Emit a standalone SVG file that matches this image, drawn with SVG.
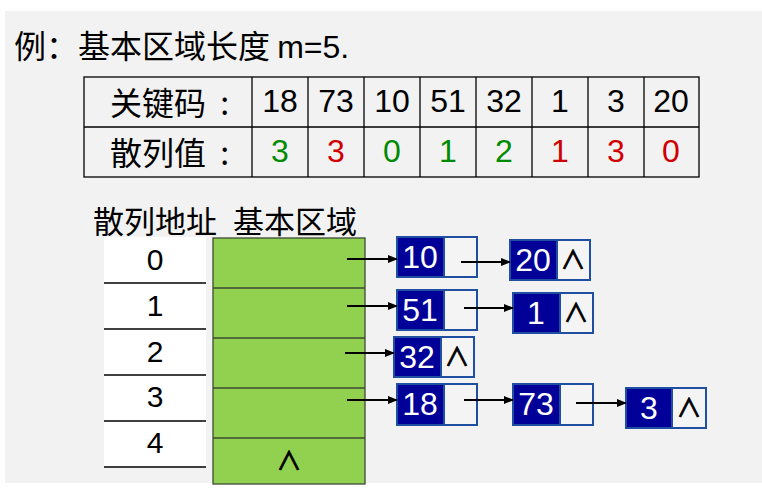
<svg xmlns="http://www.w3.org/2000/svg" width="762" height="498" viewBox="0 0 762 498">
<defs>
<style>
.t{font-family:"Liberation Sans","Noto Sans CJK SC",sans-serif;fill:#000}
.cj{font-family:"Noto Sans CJK SC","Liberation Sans",sans-serif;fill:#000}
.num{font-family:"Liberation Sans",sans-serif;font-size:32px;text-anchor:middle}
.g{fill:#008a00}
.r{fill:#d00000}
.grid{stroke:#000;stroke-width:1.3;fill:none}
.idx{font-family:"Liberation Sans",sans-serif;font-size:30px;text-anchor:middle;fill:#000}
.d{fill:#000099;stroke:#1f4fa0;stroke-width:2}
.p{fill:#f4f4f4;stroke:#1f4fa0;stroke-width:2}
.nt{font-family:"Liberation Sans",sans-serif;font-size:32px;fill:#fff;text-anchor:middle}
.nil{font-family:"Noto Sans CJK SC","DejaVu Sans",sans-serif;font-size:25px;fill:#000;stroke:#000;stroke-width:0.9;text-anchor:middle}
.ln{stroke:#000;stroke-width:2;fill:none;marker-end:url(#ah)}
</style>
<marker id="ah" markerWidth="10" markerHeight="8" refX="9" refY="4" orient="auto" markerUnits="userSpaceOnUse">
<path d="M0,0 L10,4 L0,8 z" fill="#000"/>
</marker>
</defs>
<rect x="0" y="0" width="762" height="498" fill="#fff"/>
<rect x="5" y="11" width="757" height="472" fill="#f2f2f2"/>

<g id="title">
<text class="cj" x="14" y="58" font-size="32">例：基本区域长度 <tspan class="t">m=5.</tspan></text>
</g>

<g id="table">
<rect x="84" y="77" width="615" height="100" class="grid"/>
<line x1="84" y1="127" x2="699" y2="127" class="grid"/>
<line x1="252" y1="77" x2="252" y2="177" class="grid"/>
<line x1="308" y1="77" x2="308" y2="177" class="grid"/>
<line x1="364" y1="77" x2="364" y2="177" class="grid"/>
<line x1="420" y1="77" x2="420" y2="177" class="grid"/>
<line x1="476" y1="77" x2="476" y2="177" class="grid"/>
<line x1="532" y1="77" x2="532" y2="177" class="grid"/>
<line x1="588" y1="77" x2="588" y2="177" class="grid"/>
<line x1="644" y1="77" x2="644" y2="177" class="grid"/>
<text class="cj" x="110" y="115" font-size="32">关键码<tspan x="213"> :</tspan></text>
<text class="cj" x="110" y="165" font-size="32">散列值<tspan x="213"> :</tspan></text>
<text class="num" x="280" y="112">18</text>
<text class="num" x="336" y="112">73</text>
<text class="num" x="392" y="112">10</text>
<text class="num" x="448" y="112">51</text>
<text class="num" x="504" y="112">32</text>
<text class="num" x="560" y="112">1</text>
<text class="num" x="616" y="112">3</text>
<text class="num" x="671" y="112">20</text>
<text class="num g" x="280" y="162">3</text>
<text class="num r" x="336" y="162">3</text>
<text class="num g" x="392" y="162">0</text>
<text class="num g" x="448" y="162">1</text>
<text class="num g" x="504" y="162">2</text>
<text class="num r" x="560" y="162">1</text>
<text class="num r" x="616" y="162">3</text>
<text class="num r" x="671" y="162">0</text>
</g>

<g id="headers">
<text class="cj" x="93" y="233" font-size="31">散列地址</text>
<text class="cj" x="233" y="233" font-size="31">基本区域</text>
</g>

<g id="index">
<rect x="104" y="237" width="102" height="230" fill="#fff"/>
<line x1="104" y1="283" x2="206" y2="283" stroke="#000" stroke-width="1.3"/>
<line x1="104" y1="329" x2="206" y2="329" stroke="#000" stroke-width="1.3"/>
<line x1="104" y1="375" x2="206" y2="375" stroke="#000" stroke-width="1.3"/>
<line x1="104" y1="421" x2="206" y2="421" stroke="#000" stroke-width="1.3"/>
<line x1="104" y1="467" x2="206" y2="467" stroke="#000" stroke-width="1.3"/>
<text class="idx" x="155" y="270">0</text>
<text class="idx" x="155" y="316">1</text>
<text class="idx" x="155" y="362">2</text>
<text class="idx" x="155" y="407">3</text>
<text class="idx" x="155" y="453">4</text>
</g>

<g id="buckets">
<rect x="213" y="238" width="152" height="246" fill="#92d050" stroke="#3c4a34" stroke-width="1.3"/>
<line x1="213" y1="288" x2="365" y2="288" stroke="#3c4a34" stroke-width="1.3"/>
<line x1="213" y1="338" x2="365" y2="338" stroke="#3c4a34" stroke-width="1.3"/>
<line x1="213" y1="388" x2="365" y2="388" stroke="#3c4a34" stroke-width="1.3"/>
<line x1="213" y1="438" x2="365" y2="438" stroke="#3c4a34" stroke-width="1.3"/>
<text class="nil" x="289" y="470">∧</text>
</g>

<g id="n10">
<rect x="397" y="237" width="47" height="40" class="d"/>
<rect x="444" y="237" width="33" height="40" class="p"/>
<text class="nt" x="420" y="268">10</text>
</g>
<g id="n20">
<rect x="510" y="240" width="47" height="40" class="d"/>
<rect x="557" y="240" width="33" height="40" class="p"/>
<text class="nt" x="533" y="271">20</text>
<text class="nil" x="573" y="269">∧</text>
</g>
<g id="n51">
<rect x="397" y="290" width="47" height="40" class="d"/>
<rect x="444" y="290" width="33" height="40" class="p"/>
<text class="nt" x="420" y="321">51</text>
</g>
<g id="n1">
<rect x="513" y="293" width="47" height="40" class="d"/>
<rect x="560" y="293" width="33" height="40" class="p"/>
<text class="nt" x="536" y="324">1</text>
<text class="nil" x="576" y="322">∧</text>
</g>
<g id="n32">
<rect x="394" y="337" width="47" height="40" class="d"/>
<rect x="441" y="337" width="33" height="40" class="p"/>
<text class="nt" x="417" y="368">32</text>
<text class="nil" x="457" y="366">∧</text>
</g>
<g id="n18">
<rect x="397" y="384" width="47" height="41" class="d"/>
<rect x="444" y="384" width="33" height="41" class="p"/>
<text class="nt" x="420" y="415">18</text>
</g>
<g id="n73">
<rect x="513" y="384" width="47" height="41" class="d"/>
<rect x="560" y="384" width="33" height="41" class="p"/>
<text class="nt" x="536" y="415">73</text>
</g>
<g id="n3">
<rect x="626" y="388" width="46" height="40" class="d"/>
<rect x="672" y="388" width="34" height="40" class="p"/>
<text class="nt" x="649" y="419">3</text>
<text class="nil" x="689" y="417">∧</text>
</g>

<g id="connectors">
<line x1="347" y1="259" x2="397" y2="259" class="ln"/>
<line x1="347" y1="306" x2="397" y2="306" class="ln"/>
<line x1="345" y1="353" x2="394" y2="353" class="ln"/>
<line x1="347" y1="400" x2="397" y2="400" class="ln"/>
<line x1="461" y1="262" x2="510" y2="262" class="ln"/>
<line x1="464" y1="308" x2="513" y2="308" class="ln"/>
<line x1="464" y1="400" x2="513" y2="400" class="ln"/>
<line x1="576" y1="403" x2="626" y2="403" class="ln"/>
</g>
</svg>
